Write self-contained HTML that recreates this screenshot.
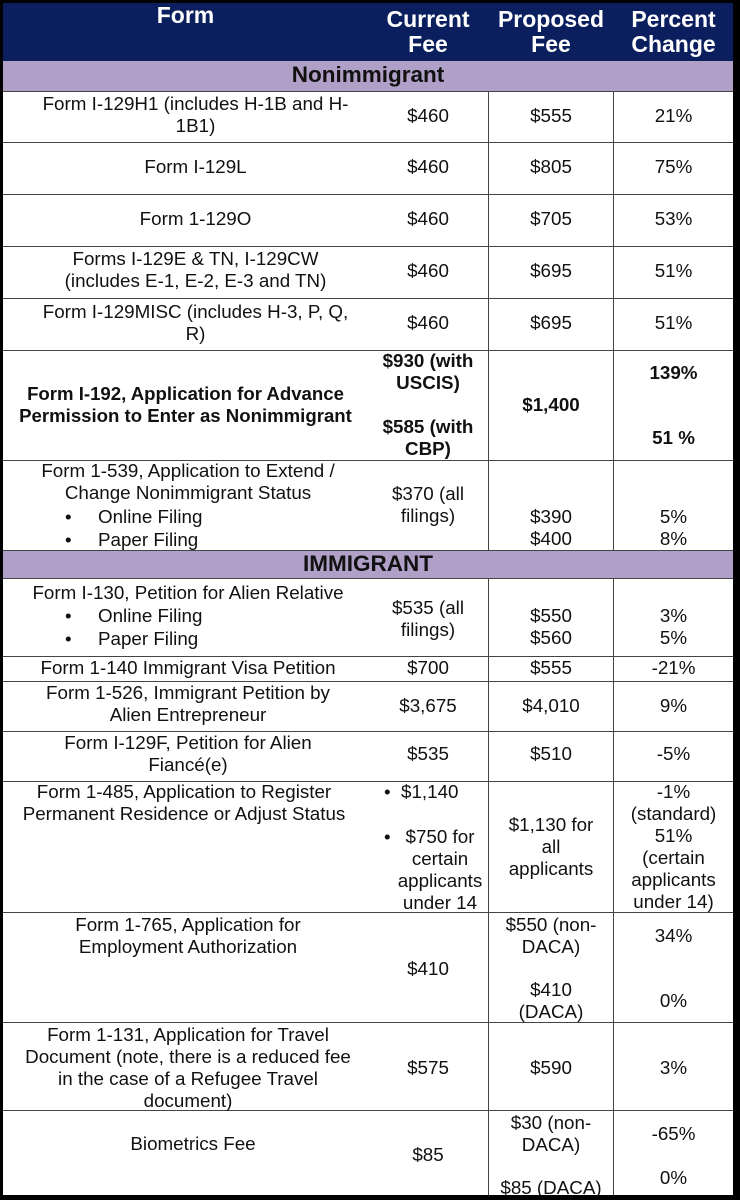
<!DOCTYPE html>
<html><head><meta charset="utf-8"><style>
*{margin:0;padding:0;box-sizing:border-box}
body{width:740px;height:1200px;background:#000;position:relative;overflow:hidden;font-family:"Liberation Sans",Arial,sans-serif;color:#111}
#t{position:absolute;left:3px;top:3px;width:730px;height:1192px;background:#fff;overflow:hidden}
.h{position:absolute;left:0;width:730px;height:1px;background:#444}
.v{position:absolute;width:1px;background:#444}
.x{position:absolute;text-align:center;font-size:18.8px;line-height:22px;white-space:nowrap}
.b{font-weight:bold}
.hd{color:#fff;font-weight:bold;font-size:23px;line-height:25px}
</style></head><body><div id="t">
<div style="position:absolute;left:0;top:0;width:730px;height:58px;background:#0b1f5e"></div>
<div style="position:absolute;left:0;top:58px;width:730px;height:30px;background:#b09fc6"></div>
<div style="position:absolute;left:0;top:547px;width:730px;height:28px;background:#b09fc6"></div>

<div class="h" style="top:88px"></div>
<div class="h" style="top:139px"></div>
<div class="h" style="top:191px"></div>
<div class="h" style="top:243px"></div>
<div class="h" style="top:295px"></div>
<div class="h" style="top:347px"></div>
<div class="h" style="top:457px"></div>
<div class="h" style="top:547px"></div>
<div class="h" style="top:575px"></div>
<div class="h" style="top:653px"></div>
<div class="h" style="top:678px"></div>
<div class="h" style="top:728px"></div>
<div class="h" style="top:778px"></div>
<div class="h" style="top:909px"></div>
<div class="h" style="top:1019px"></div>
<div class="h" style="top:1107px"></div>

<div class="v" style="left:485px;top:88px;height:459px"></div>
<div class="v" style="left:610px;top:88px;height:459px"></div>
<div class="v" style="left:485px;top:575px;height:620px"></div>
<div class="v" style="left:610px;top:575px;height:620px"></div>

<div class="x hd" style="left:0;width:365px;top:0">Form</div>
<div class="x hd" style="left:372px;width:106px;top:4px">Current<br>Fee</div>
<div class="x hd" style="left:486px;width:124px;top:4px">Proposed<br>Fee</div>
<div class="x hd" style="left:611px;width:119px;top:4px">Percent<br>Change</div>
<div class="x b" style="left:0;width:730px;top:58px;font-size:22.5px;line-height:28px">Nonimmigrant</div>
<div class="x b" style="left:0;width:730px;top:547px;font-size:22.5px;line-height:28px">IMMIGRANT</div>

<div class="x" style="left:0;width:385px;top:90px">Form I-129H1 (includes H-1B and H-<br>1B1)</div>
<div class="x" style="left:372px;width:106px;top:102px">$460</div>
<div class="x" style="left:486px;width:124px;top:102px">$555</div>
<div class="x" style="left:611px;width:119px;top:102px">21%</div>

<div class="x" style="left:0;width:385px;top:153px">Form I-129L</div>
<div class="x" style="left:372px;width:106px;top:153px">$460</div>
<div class="x" style="left:486px;width:124px;top:153px">$805</div>
<div class="x" style="left:611px;width:119px;top:153px">75%</div>

<div class="x" style="left:0;width:385px;top:205px">Form 1-129O</div>
<div class="x" style="left:372px;width:106px;top:205px">$460</div>
<div class="x" style="left:486px;width:124px;top:205px">$705</div>
<div class="x" style="left:611px;width:119px;top:205px">53%</div>

<div class="x" style="left:0;width:385px;top:245px">Forms I-129E &amp; TN, I-129CW<br>(includes E-1, E-2, E-3 and TN)</div>
<div class="x" style="left:372px;width:106px;top:257px">$460</div>
<div class="x" style="left:486px;width:124px;top:257px">$695</div>
<div class="x" style="left:611px;width:119px;top:257px">51%</div>

<div class="x" style="left:0;width:385px;top:298px">Form I-129MISC (includes H-3, P, Q,<br>R)</div>
<div class="x" style="left:372px;width:106px;top:309px">$460</div>
<div class="x" style="left:486px;width:124px;top:309px">$695</div>
<div class="x" style="left:611px;width:119px;top:309px">51%</div>

<div class="x b" style="left:0;width:365px;top:380px;font-size:18.6px">Form I-192, Application for Advance<br>Permission to Enter as Nonimmigrant</div>
<div class="x b" style="left:372px;width:106px;top:347px">$930 (with<br>USCIS)</div>
<div class="x b" style="left:372px;width:106px;top:413px">$585 (with<br>CBP)</div>
<div class="x b" style="left:486px;width:124px;top:391px">$1,400</div>
<div class="x b" style="left:611px;width:119px;top:359px">139%</div>
<div class="x b" style="left:611px;width:119px;top:424px">51 %</div>

<div class="x" style="left:0;width:370px;top:457px">Form 1-539, Application to Extend /<br>Change Nonimmigrant Status</div>
<div class="x" style="left:62px;top:503px;text-align:left">•</div>
<div class="x" style="left:95px;top:503px;text-align:left">Online Filing</div>
<div class="x" style="left:62px;top:526px;text-align:left">•</div>
<div class="x" style="left:95px;top:526px;text-align:left">Paper Filing</div>
<div class="x" style="left:372px;width:106px;top:480px">$370 (all<br>filings)</div>
<div class="x" style="left:486px;width:124px;top:503px">$390<br>$400</div>
<div class="x" style="left:611px;width:119px;top:503px">5%<br>8%</div>

<div class="x" style="left:0;width:370px;top:579px">Form I-130, Petition for Alien Relative</div>
<div class="x" style="left:62px;top:602px;text-align:left">•</div>
<div class="x" style="left:95px;top:602px;text-align:left">Online Filing</div>
<div class="x" style="left:62px;top:625px;text-align:left">•</div>
<div class="x" style="left:95px;top:625px;text-align:left">Paper Filing</div>
<div class="x" style="left:372px;width:106px;top:594px">$535 (all<br>filings)</div>
<div class="x" style="left:486px;width:124px;top:602px">$550<br>$560</div>
<div class="x" style="left:611px;width:119px;top:602px">3%<br>5%</div>

<div class="x" style="left:0;width:370px;top:654px">Form 1-140 Immigrant Visa Petition</div>
<div class="x" style="left:372px;width:106px;top:654px">$700</div>
<div class="x" style="left:486px;width:124px;top:654px">$555</div>
<div class="x" style="left:611px;width:119px;top:654px">-21%</div>

<div class="x" style="left:0;width:370px;top:679px">Form 1-526, Immigrant Petition by<br>Alien Entrepreneur</div>
<div class="x" style="left:372px;width:106px;top:692px">$3,675</div>
<div class="x" style="left:486px;width:124px;top:692px">$4,010</div>
<div class="x" style="left:611px;width:119px;top:692px">9%</div>

<div class="x" style="left:0;width:370px;top:729px">Form I-129F, Petition for Alien<br>Fiancé(e)</div>
<div class="x" style="left:372px;width:106px;top:740px">$535</div>
<div class="x" style="left:486px;width:124px;top:740px">$510</div>
<div class="x" style="left:611px;width:119px;top:740px">-5%</div>

<div class="x" style="left:0;width:362px;top:778px">Form 1-485, Application to Register<br>Permanent Residence or Adjust Status</div>
<div class="x" style="left:381px;top:778px;text-align:left">•&nbsp; $1,140</div>
<div class="x" style="left:381px;top:823px;text-align:left">•</div>
<div class="x" style="left:392px;width:90px;top:823px">$750 for<br>certain<br>applicants<br>under 14</div>
<div class="x" style="left:486px;width:124px;top:811px">$1,130 for<br>all<br>applicants</div>
<div class="x" style="left:611px;width:119px;top:778px">-1%<br>(standard)<br>51%<br>(certain<br>applicants<br>under 14)</div>

<div class="x" style="left:0;width:370px;top:911px">Form 1-765, Application for<br>Employment Authorization</div>
<div class="x" style="left:372px;width:106px;top:955px">$410</div>
<div class="x" style="left:486px;width:124px;top:911px">$550 (non-<br>DACA)</div>
<div class="x" style="left:486px;width:124px;top:976px">$410<br>(DACA)</div>
<div class="x" style="left:611px;width:119px;top:922px">34%</div>
<div class="x" style="left:611px;width:119px;top:987px">0%</div>

<div class="x" style="left:0;width:370px;top:1021px">Form 1-131, Application for Travel<br>Document (note, there is a reduced fee<br>in the case of a Refugee Travel<br>document)</div>
<div class="x" style="left:372px;width:106px;top:1054px">$575</div>
<div class="x" style="left:486px;width:124px;top:1054px">$590</div>
<div class="x" style="left:611px;width:119px;top:1054px">3%</div>

<div class="x" style="left:0;width:380px;top:1130px">Biometrics Fee</div>
<div class="x" style="left:372px;width:106px;top:1141px">$85</div>
<div class="x" style="left:486px;width:124px;top:1109px">$30 (non-<br>DACA)</div>
<div class="x" style="left:486px;width:124px;top:1174px">$85 (DACA)</div>
<div class="x" style="left:611px;width:119px;top:1120px">-65%</div>
<div class="x" style="left:611px;width:119px;top:1164px">0%</div>
</div></body></html>
